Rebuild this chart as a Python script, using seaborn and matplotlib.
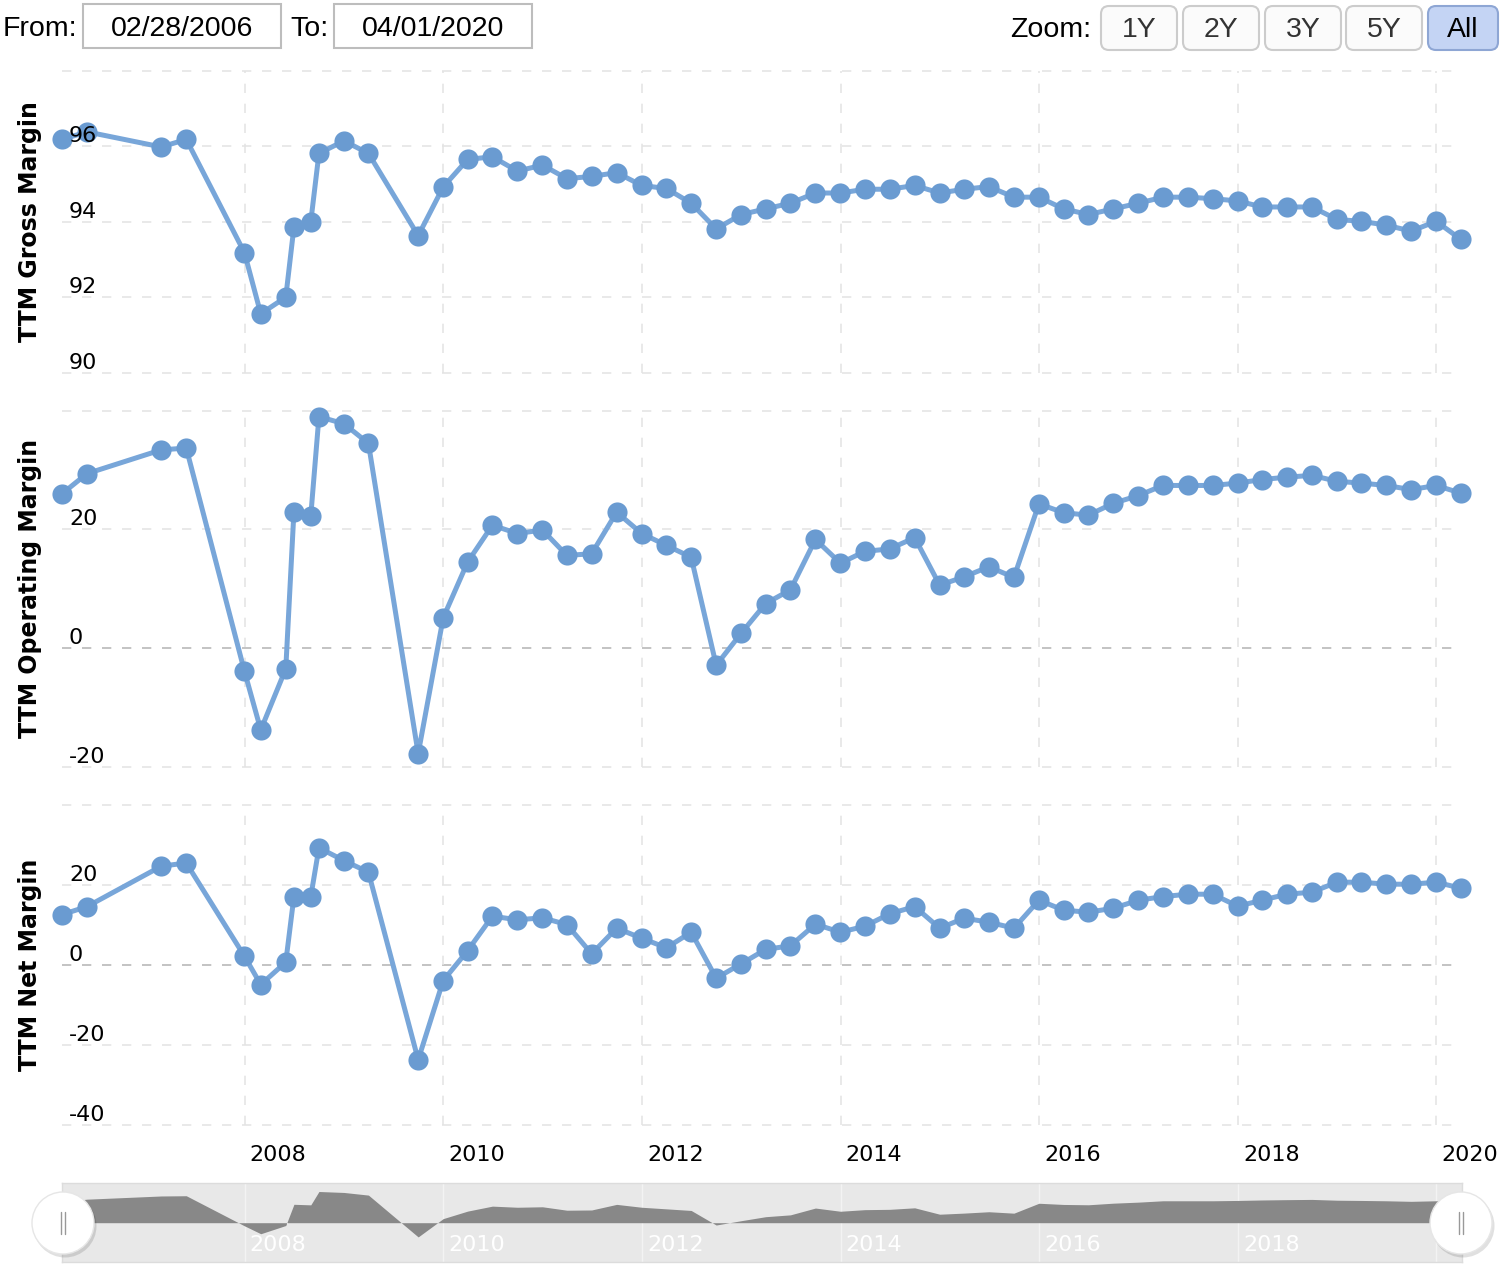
import matplotlib
matplotlib.use("Agg")
import matplotlib.pyplot as plt
import seaborn as sns
import pandas as pd
from matplotlib.transforms import ScaledTranslation, IdentityTransform
from matplotlib.patches import FancyBboxPatch, Ellipse
from matplotlib.lines import Line2D

# ---------------- data ----------------
dates = [
    '2006-02-28', '2006-05-31', '2007-02-28', '2007-05-31', '2007-12-31',
    '2008-02-29', '2008-05-31', '2008-06-30', '2008-08-31', '2008-09-30',
    '2008-12-31', '2009-03-31', '2009-09-30', '2009-12-31',
    '2010-03-31', '2010-06-30', '2010-09-30', '2010-12-31',
    '2011-03-31', '2011-06-30', '2011-09-30', '2011-12-31',
    '2012-03-31', '2012-06-30', '2012-09-30', '2012-12-31',
    '2013-03-31', '2013-06-30', '2013-09-30', '2013-12-31',
    '2014-03-31', '2014-06-30', '2014-09-30', '2014-12-31',
    '2015-03-31', '2015-06-30', '2015-09-30', '2015-12-31',
    '2016-03-31', '2016-06-30', '2016-09-30', '2016-12-31',
    '2017-03-31', '2017-06-30', '2017-09-30', '2017-12-31',
    '2018-03-31', '2018-06-30', '2018-09-30', '2018-12-31',
    '2019-03-31', '2019-06-30', '2019-09-30', '2019-12-31',
    '2020-03-31',
]

gross_margin = [
    96.18, 96.38, 95.98, 96.18, 93.18, 91.56, 92.00, 93.86, 94.00, 95.81,
    96.14, 95.81, 93.63, 94.92,
    95.65, 95.72, 95.34, 95.50,
    95.14, 95.20, 95.30, 94.96,
    94.88, 94.49, 93.81, 94.19,
    94.34, 94.49, 94.76, 94.76,
    94.86, 94.86, 94.96, 94.76,
    94.86, 94.93, 94.65, 94.65,
    94.34, 94.19, 94.34, 94.49,
    94.65, 94.65, 94.61, 94.55,
    94.39, 94.39, 94.39, 94.06,
    94.01, 93.91, 93.75, 94.01,
    93.53,
]

operating_margin = [
    26.0, 29.4, 33.4, 33.7, -3.9, -13.8, -3.5, 23.0, 22.3, 39.0,
    37.8, 34.5, -17.8, 5.1,
    14.5, 20.7, 19.3, 19.9,
    15.6, 15.9, 22.9, 19.3,
    17.3, 15.3, -2.9, 2.5,
    7.5, 9.8, 18.3, 14.3,
    16.3, 16.7, 18.6, 10.6,
    12.0, 13.7, 11.9, 24.3,
    22.8, 22.4, 24.4, 25.7,
    27.4, 27.4, 27.4, 27.8,
    28.4, 28.8, 29.1, 28.1,
    27.8, 27.4, 26.7, 27.4,
    26.1,
]

net_margin = [
    12.6, 14.6, 24.7, 25.5, 2.2, -4.9, 0.7, 17.1, 17.1, 29.3,
    26.1, 23.2, -23.7, -3.9,
    3.6, 12.2, 11.3, 11.8,
    10.1, 2.8, 9.2, 6.7,
    4.3, 8.2, -3.3, 0.3,
    3.9, 4.8, 10.2, 8.2,
    9.7, 12.8, 14.6, 9.2,
    11.7, 10.7, 9.2, 16.2,
    13.7, 13.2, 14.2, 16.2,
    17.1, 17.7, 17.7, 14.7,
    16.2, 17.7, 18.2, 20.7,
    20.7, 20.2, 20.2, 20.7,
    19.2,
]

year_labels = ['2008', '2010', '2012', '2014', '2016', '2018', '2020']

panel_titles = ['TTM Gross Margin', 'TTM Operating Margin', 'TTM Net Margin']
gross_ticks = [90, 92, 94, 96, 98]
operating_ticks = [-20, 0, 20, 40]
net_ticks = [-40, -20, 0, 20, 40]

from_date = '02/28/2006'
to_date = '04/01/2020'
zoom_buttons = ['1Y', '2Y', '3Y', '5Y', 'All']

# ---------------- style ----------------
sns.set_style('white')
plt.rcParams['font.family'] = ['DejaVu Sans']
plt.rcParams['lines.scale_dashes'] = False

W, H = 1502, 1268
fig = plt.figure(figsize=(W / 100, H / 100), dpi=100)
fig.patch.set_facecolor('white')

df = pd.DataFrame({
    'date': pd.to_datetime(dates),
    'gross': gross_margin,
    'operating': operating_margin,
    'net': net_margin,
})
tick_dates = pd.to_datetime([f'{y}-01-01' for y in year_labels])
x0, x1 = pd.Timestamp('2006-02-28'), pd.Timestamp('2020-04-04')
L, R = 62, 1462


def rect(top, bottom):
    return [L / W, 1 - bottom / H, (R - L) / W, (bottom - top) / H]


BLUE = '#6a9bd1'
LINE = '#78a6d9'
GRID = '#e3e3e3'
ZERO = '#b3b3b3'
DASH = (0, (6.7, 7.7))
hx = (1452 - L) / (R - L)

panels = [
    ('gross', panel_titles[0], 70.7, 372.7, (90, 98), gross_ticks),
    ('operating', panel_titles[1], 410.7, 766.7, (-20, 40), operating_ticks),
    ('net', panel_titles[2], 805, 1125, (-40, 40), net_ticks),
]

for i, (col, title, top, bot, ylim, yt) in enumerate(panels):
    ax = fig.add_axes(rect(top, bot))
    ax.set_facecolor('none')
    sns.lineplot(data=df, x='date', y=col, ax=ax, color=LINE, linewidth=3.6,
                 marker='o', markersize=14.5, markerfacecolor=BLUE,
                 markeredgewidth=0, clip_on=False, zorder=2,
                 estimator=None, sort=False)
    ax.set_axisbelow(False)
    ax.set_xlim(x0, x1)
    ax.set_ylim(*ylim)
    for v in yt:
        ax.axhline(v, xmax=hx, color=ZERO if v == 0 else GRID, lw=1.1,
                   linestyle=DASH, zorder=1, clip_on=False)
    for t in tick_dates:
        ax.axvline(t, color=GRID, lw=1.1, linestyle=DASH, zorder=1)
    for s in ax.spines.values():
        s.set_visible(False)

    labels = [str(v) for v in yt[:-1]] + ['']
    ax.set_yticks(yt, labels)
    ax.tick_params(axis='y', length=0, pad=-5, labelsize=16, labelcolor='#000000')
    for lbl in ax.get_yticklabels():
        lbl.set_horizontalalignment('left')
        lbl.set_verticalalignment('baseline')
        lbl.set_transform(lbl.get_transform() +
                          ScaledTranslation(0, 4 / 100, fig.dpi_scale_trans))

    if i == 2:
        ax.set_xticks(tick_dates, year_labels)
        ax.tick_params(axis='x', length=0, pad=14.5, labelsize=16, labelcolor='#000000')
        for lbl in ax.get_xticklabels():
            lbl.set_horizontalalignment('left')
            lbl.set_transform(lbl.get_transform() +
                              ScaledTranslation(5 / 100, 0, fig.dpi_scale_trans))
    else:
        ax.set_xticks(tick_dates, [''] * len(tick_dates))
        ax.tick_params(axis='x', length=0)

    ax.set_xlabel('')
    ax.set_ylabel(title, fontsize=17, fontweight='bold', color='#000000')
    ax.yaxis.set_label_coords((42 - L) / (R - L), 0.5)

# ---------------- navigator ----------------
nav = fig.add_axes(rect(1182.7, 1261.7))
nav.set_facecolor('#e8e8e8')
for t in tick_dates:
    nav.axvline(t, color='#f3f3f3', lw=1, zorder=0.5)
nav.fill_between(df['date'], df['operating'], 0, color='#888888', lw=0, zorder=1)
nav.set_xlim(x0, x1)
nav.set_ylim(-48.75, 50)
nav.set_yticks([])
nav.set_xticks(tick_dates[:-1], year_labels[:-1])
nav.tick_params(axis='x', length=0, pad=-12, labelsize=16, labelcolor='white')
for lbl in nav.get_xticklabels():
    lbl.set_horizontalalignment('left')
    lbl.set_verticalalignment('center')
    lbl.set_transform(lbl.get_transform() +
                      ScaledTranslation(5 / 100, 0, fig.dpi_scale_trans))
for s in nav.spines.values():
    s.set_color('#dcdcdc')
    s.set_linewidth(1)

idt = IdentityTransform()
for cx in (63, 1461):
    fig.add_artist(Ellipse((cx + 2, H - 1226), 63, 63, transform=idt,
                           facecolor=(0, 0, 0, 0.12), edgecolor='none'))
    fig.add_artist(Ellipse((cx, H - 1223), 62, 62, transform=idt,
                           facecolor='white', edgecolor='#e6e6e6', lw=1))
    for dx in (-2, 2):
        fig.add_artist(Line2D([cx + dx, cx + dx], [H - 1212, H - 1234],
                              transform=idt, color='#999999', lw=1))

# ---------------- top controls ----------------
UI = ['Liberation Sans', 'DejaVu Sans']
FS = 20.5


def box(x0_, y0_, x1_, y1_, fc, ec, rounding=0.0, lw=1.5):
    style = f'round,pad=0,rounding_size={rounding}' if rounding else 'square,pad=0'
    fig.add_artist(FancyBboxPatch((x0_, H - y1_), x1_ - x0_, y1_ - y0_,
                                  boxstyle=style, transform=idt,
                                  facecolor=fc, edgecolor=ec, lw=lw))


def txt(x, y, s, ha='left'):
    fig.text(x / W, 1 - y / H, s, fontsize=FS, family=UI, ha=ha, va='center',
             color='#000000')


txt(3, 29, 'From:')
box(83, 4, 281, 48, 'white', '#bdbdbd')
txt(182, 29, from_date, ha='center')
txt(290, 29, 'To:')
box(334, 4, 532, 48, 'white', '#bdbdbd')
txt(433, 29, to_date, ha='center')

txt(1010, 30, 'Zoom:')
button_x = [(1101, 1177), (1183, 1259), (1265, 1341), (1346, 1422), (1428, 1498)]
for name, (bx0, bx1) in zip(zoom_buttons, button_x):
    sel = name == 'All'
    box(bx0, 6, bx1, 50, '#c4d4f4' if sel else '#fbfbfb',
        '#8ea6d4' if sel else '#cccccc', rounding=8)
    fig.text((bx0 + bx1) / 2 / W, 1 - 30 / H, name, fontsize=FS, family=UI,
             ha='center', va='center', color='#000000' if sel else '#333333')

fig.savefig('out.png', dpi=100, facecolor='white')
